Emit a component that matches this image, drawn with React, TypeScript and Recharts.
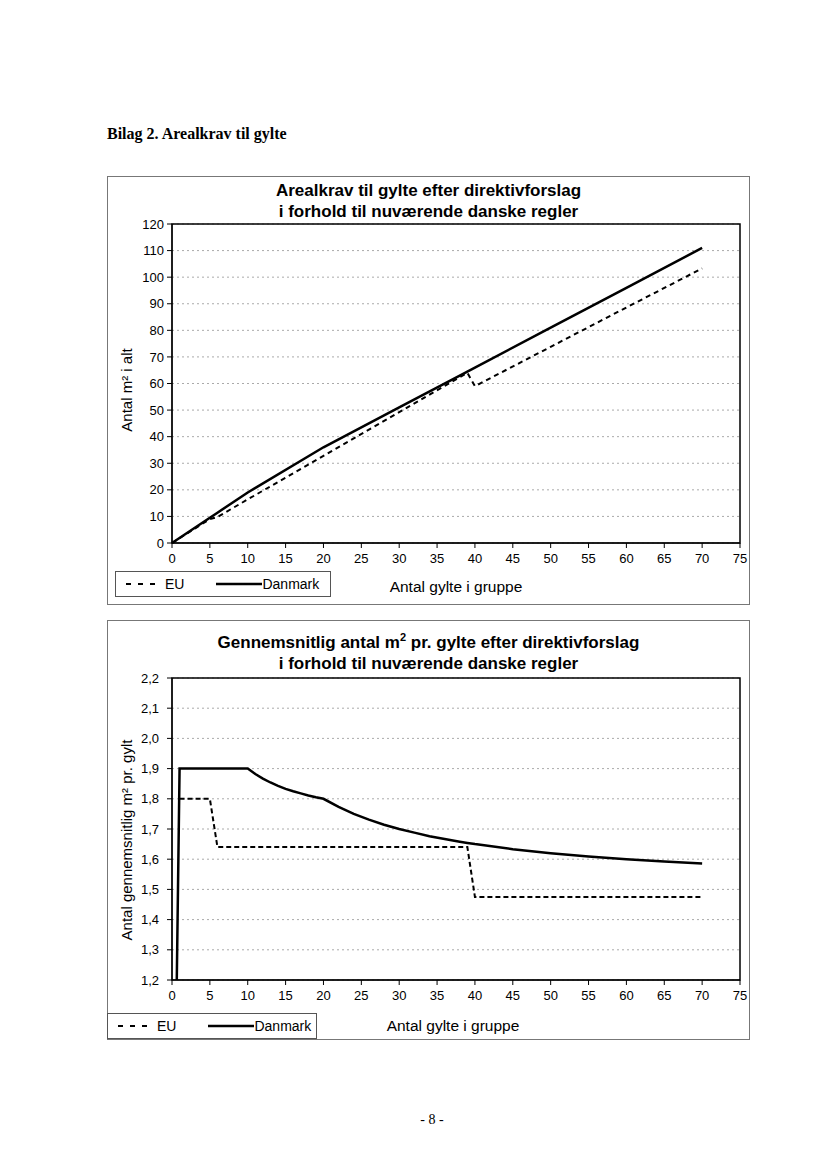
import React from 'react';
import { LineChart, Line, XAxis, YAxis, CartesianGrid, ReferenceArea } from 'recharts';

// fælles x-akse: antal gylte i gruppe
const xTicks = [0, 5, 10, 15, 20, 25, 30, 35, 40, 45, 50, 55, 60, 65, 70, 75];

// figur 1 - samlet areal i m2
const totalX = [0, 5, 6, 10, 20, 30, 39, 40, 50, 60, 70];
const totalDanmark = [0, 9.5, 11.4, 19, 36, 51, 64.5, 66, 81, 96, 111];
const totalEU = [0, 9, 9.8, 16.4, 32.8, 49.2, 64, 59, 73.8, 88.6, 103.3];
const totalTicks = [0, 10, 20, 30, 40, 50, 60, 70, 80, 90, 100, 110, 120];

// figur 2 - gennemsnitlig m2 pr. gylt
const avgX = [0, 1, 5, 6, 10, 11, 12, 13, 14, 15, 16, 17, 18, 19, 20, 22, 24, 26, 28, 30, 32, 34, 36, 38, 39, 40, 45, 50, 55, 60, 65, 70];
const avgDanmark = [0, 1.9, 1.9, 1.9, 1.9, 1.882, 1.867, 1.854, 1.843, 1.833, 1.825, 1.818, 1.811, 1.805, 1.8, 1.773, 1.75, 1.731, 1.714, 1.7, 1.688, 1.676, 1.667, 1.658, 1.654, 1.65, 1.633, 1.62, 1.609, 1.6, 1.592, 1.586];
const avgEU = [null, 1.8, 1.8, 1.64, 1.64, 1.64, 1.64, 1.64, 1.64, 1.64, 1.64, 1.64, 1.64, 1.64, 1.64, 1.64, 1.64, 1.64, 1.64, 1.64, 1.64, 1.64, 1.64, 1.64, 1.64, 1.475, 1.475, 1.475, 1.475, 1.475, 1.475, 1.475];
const avgTicks = [1.2, 1.3, 1.4, 1.5, 1.6, 1.7, 1.8, 1.9, 2.0, 2.1, 2.2];

const totalData = totalX.map((x, i) => ({ x, danmark: totalDanmark[i], eu: totalEU[i] }));
const avgData = avgX.map((x, i) => ({ x, danmark: avgDanmark[i], eu: avgEU[i] }));

const sans = '"Liberation Sans", Arial, sans-serif';
const serif = '"Liberation Serif", "Times New Roman", serif';
const tickStyle = { fontSize: 13, fill: '#000', fontFamily: sans };

function LegendBox({ left, top, width }: { left: number; top: number; width: number }) {
  return (
    <div style={{ position: 'absolute', left, top, width, height: 26, border: '1px solid #555', boxSizing: 'border-box', fontFamily: sans, fontSize: 14, display: 'flex', alignItems: 'center' }}>
      <svg width={36} height={10} style={{ marginLeft: 10 }}>
        <line x1={0} y1={5} x2={36} y2={5} stroke="#000" strokeWidth={2} strokeDasharray="5 7" />
      </svg>
      <span style={{ marginLeft: 3 }}>EU</span>
      <svg width={46} height={10} style={{ marginLeft: 32 }}>
        <line x1={0} y1={5} x2={46} y2={5} stroke="#000" strokeWidth={2.5} />
      </svg>
      <span>Danmark</span>
    </div>
  );
}

function YLabel({ cx, cy, children }: { cx: number; cy: number; children: React.ReactNode }) {
  return (
    <div style={{ position: 'absolute', left: cx - 150, top: cy - 10, width: 300, height: 20, textAlign: 'center', transform: 'rotate(-90deg)', fontFamily: sans, fontSize: 15, lineHeight: '20px' }}>
      {children}
    </div>
  );
}

export default function App() {
  const fmt = (v: number) => v.toFixed(1).replace('.', ',');
  return (
    <div style={{ position: 'relative', width: 827, height: 1163, margin: '-8px 0 0 -8px', background: '#fff', overflow: 'hidden' }}>
      <div style={{ position: 'absolute', left: 0, top: 0, width: 827, height: 2, background: '#444' }} />
      <div style={{ position: 'absolute', left: 4, top: 20, width: 1, height: 1030, background: '#ccc' }} />

      <div style={{ position: 'absolute', left: 107, top: 124, fontFamily: serif, fontWeight: 'bold', fontSize: 16, lineHeight: '20px' }}>
        Bilag 2. Arealkrav til gylte
      </div>

      {/* figur 1 */}
      <div style={{ position: 'absolute', left: 107, top: 176, width: 643, height: 429, border: '1px solid #777', boxSizing: 'border-box' }} />
      <div style={{ position: 'absolute', left: 107, top: 180, width: 643, textAlign: 'center', fontFamily: sans, fontWeight: 'bold', fontSize: 17, lineHeight: '21px' }}>
        Arealkrav til gylte efter direktivforslag<br />i forhold til nuværende danske regler
      </div>
      <div style={{ position: 'absolute', left: 107, top: 176 }}>
        <LineChart width={643} height={429} data={totalData} margin={{ top: 48, right: 10, bottom: 32, left: 5 }}>
          <CartesianGrid vertical={false} stroke="#aaa" strokeDasharray="2 3" />
          <XAxis dataKey="x" type="number" domain={[0, 75]} ticks={xTicks} interval={0} tick={tickStyle} tickSize={5} tickMargin={6} height={30} axisLine={{ stroke: '#000' }} tickLine={{ stroke: '#000' }} />
          <YAxis type="number" domain={[0, 120]} ticks={totalTicks} interval={0} tick={tickStyle} tickSize={5} tickMargin={3} width={60} axisLine={{ stroke: '#000' }} tickLine={{ stroke: '#000' }} />
          <ReferenceArea x1={0} x2={75} y1={0} y2={120} fill="none" stroke="#000" strokeWidth={1.5} />
          <Line dataKey="eu" type="linear" stroke="#000" strokeWidth={2} strokeDasharray="5 4" dot={false} isAnimationActive={false} />
          <Line dataKey="danmark" type="linear" stroke="#000" strokeWidth={2.5} dot={false} isAnimationActive={false} />
        </LineChart>
      </div>
      <YLabel cx={127} cy={390}>Antal m² i alt</YLabel>
      <LegendBox left={115} top={571} width={216} />
      <div style={{ position: 'absolute', left: 356, top: 578, width: 200, textAlign: 'center', fontFamily: sans, fontSize: 15.5 }}>Antal gylte i gruppe</div>

      {/* figur 2 */}
      <div style={{ position: 'absolute', left: 107, top: 620, width: 643, height: 420, border: '1px solid #777', boxSizing: 'border-box' }} />
      <div style={{ position: 'absolute', left: 107, top: 632, width: 643, textAlign: 'center', fontFamily: sans, fontWeight: 'bold', fontSize: 17, lineHeight: '21px' }}>
        Gennemsnitlig antal m<sup style={{ fontSize: 11, lineHeight: 0 }}>2</sup> pr. gylte efter direktivforslag<br />i forhold til nuværende danske regler
      </div>
      <div style={{ position: 'absolute', left: 107, top: 620 }}>
        <LineChart width={643} height={420} data={avgData} margin={{ top: 58, right: 10, bottom: 30, left: 5 }}>
          <CartesianGrid vertical={false} stroke="#aaa" strokeDasharray="2 3" />
          <XAxis dataKey="x" type="number" domain={[0, 75]} ticks={xTicks} interval={0} tick={tickStyle} tickSize={5} tickMargin={6} height={30} axisLine={{ stroke: '#000' }} tickLine={{ stroke: '#000' }} />
          <YAxis type="number" domain={[1.2, 2.2]} allowDataOverflow ticks={avgTicks} interval={0} tick={tickStyle} tickFormatter={fmt} tickSize={5} tickMargin={8} width={60} axisLine={{ stroke: '#000' }} tickLine={{ stroke: '#000' }} />
          <ReferenceArea x1={0} x2={75} y1={1.2} y2={2.2} fill="none" stroke="#000" strokeWidth={1.5} />
          <Line dataKey="eu" type="linear" stroke="#000" strokeWidth={2} strokeDasharray="5 3" dot={false} connectNulls={false} isAnimationActive={false} />
          <Line dataKey="danmark" type="linear" stroke="#000" strokeWidth={2.5} dot={false} isAnimationActive={false} />
        </LineChart>
      </div>
      <YLabel cx={127} cy={840}>Antal gennemsnitlig m² pr. gylt</YLabel>
      <LegendBox left={107} top={1013} width={210} />
      <div style={{ position: 'absolute', left: 353, top: 1017, width: 200, textAlign: 'center', fontFamily: sans, fontSize: 15.5 }}>Antal gylte i gruppe</div>

      <div style={{ position: 'absolute', left: 382, top: 1112, width: 100, textAlign: 'center', fontFamily: serif, fontSize: 14 }}>- 8 -</div>
    </div>
  );
}
